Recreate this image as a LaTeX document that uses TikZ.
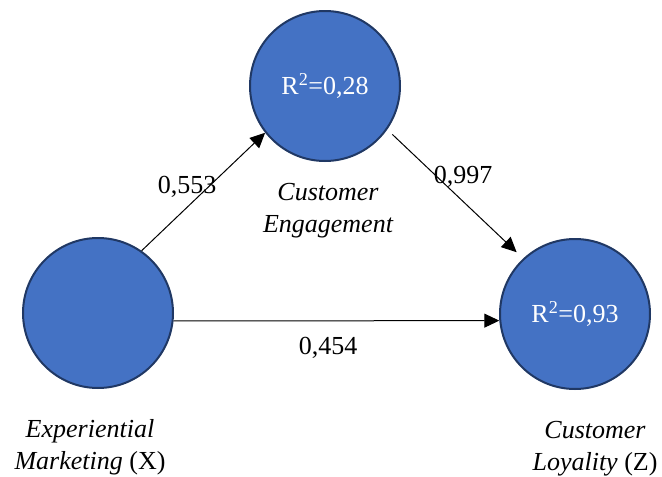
\documentclass[tikz,border=0pt]{standalone}
\usepackage{fontspec}
\setmainfont{Liberation Serif}
\usetikzlibrary{arrows.meta}
\definecolor{fillblue}{HTML}{4472C4}
\definecolor{edgeblue}{HTML}{203864}
\begin{document}
\begin{tikzpicture}[x=1pt,y=-1pt,
  construct/.style={circle, draw=edgeblue, line width=2pt, fill=fillblue,
    minimum size=150pt, inner sep=0pt, text=white, font=\fontsize{26}{30}\selectfont},
  path/.style={draw=black, line width=1pt, -{Triangle[length=15pt,width=14pt]}},
  coef/.style={font=\fontsize{26}{30}\selectfont, inner sep=0pt},
  varname/.style={font=\fontsize{26}{32}\selectfont, align=center, inner sep=0pt}]
\useasboundingbox (0,0) rectangle (662,477);
\node[construct] (L) at (98,313) {};
\node[construct] (T) at (325,86) {R\textsuperscript{2}=0,28};
\node[construct] (R) at (575,314) {R\textsuperscript{2}=0,93};
\draw[path] (L.55) -- (T.218);
\draw[path, shorten <=7pt, shorten >=9pt] (T.-35) -- (R.133);
\draw[path] (L.-6) -- (R.185);
\node[coef] (c1) at (187,187) {0,553};
\node[coef] (c2) at (463,177) {0,997};
\node[coef] (c3) at (328,348) {0,454};
\node[varname] (nT) at (328,211) {\itshape Customer\\\itshape Engagement};
\node[varname] (nL) at (90,447) {\itshape Experiential\\{\itshape Marketing} (X)};
\node[varname] (nR) at (595,449) {\itshape Customer\\{\itshape Loyality} (Z)};
\end{tikzpicture}
\end{document}
